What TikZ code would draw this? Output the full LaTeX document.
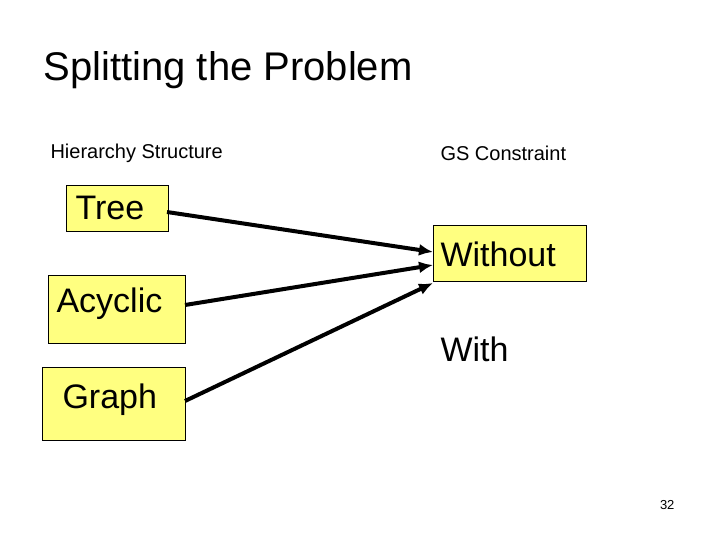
\documentclass[tikz,border=0pt]{standalone}
\usepackage{fontspec}
\setmainfont{Liberation Sans}
\begin{document}
\begin{tikzpicture}[x=1pt,y=-1pt,
  box/.style={draw=black,fill={rgb,255:red,255;green,255;blue,128},line width=0.8pt,inner sep=0pt},
  lbl/.style={font=\fontsize{34}{36}\selectfont,anchor=west},
  arr/.style={line width=4pt,-{Latex[length=14pt,width=12pt]}}]
\usetikzlibrary{arrows.meta}
\useasboundingbox (0,0) rectangle (720,540);
\node[anchor=west,font=\fontsize{40}{44}\selectfont] (title) at (40,70) {Splitting the Problem};
\node[anchor=west,font=\fontsize{20}{22}\selectfont] (hs) at (47,153) {Hierarchy Structure};
\node[anchor=west,font=\fontsize{20}{22}\selectfont] (gs) at (437,153) {GS Constraint};
\draw[box] (66,185) rectangle (168,231);
\node[lbl] (tree) at (72,208) {Tree};
\draw[box] (48,275) rectangle (185,343);
\node[lbl] (acyc) at (53,304) {Acyclic};
\draw[box] (42,367) rectangle (185,440);
\node[lbl] (graph) at (59,400) {Graph};
\draw[box] (433,225) rectangle (586,281);
\node[lbl] (without) at (437,254) {Without};
\node[lbl] (with) at (437,349) {With};
\node[anchor=east,font=\fontsize{13}{15}\selectfont] (num) at (678,505) {32};
\coordinate (t1) at (167,212); \coordinate (t2) at (433,252);
\coordinate (a1) at (185,305); \coordinate (a2) at (433,265);
\coordinate (g1) at (185,401); \coordinate (g2) at (433,283);
\draw[arr] (t1) -- (t2);
\draw[arr] (a1) -- (a2);
\draw[arr] (g1) -- (g2);
\end{tikzpicture}
\end{document}
